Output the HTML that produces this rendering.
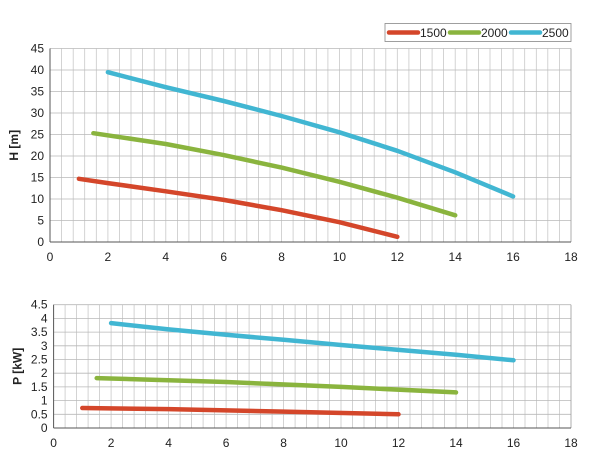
<!DOCTYPE html>
<html><head><meta charset="utf-8"><style>body{margin:0;background:#fff}svg{display:block}text{font-family:"Liberation Sans",Arial,sans-serif;fill:#222}</style></head>
<body>
<svg id="s" width="600" height="463" xmlns="http://www.w3.org/2000/svg"></svg>
<script>
const s=document.getElementById('s');let h='';
function chart(x0,x1,yT,yB,ymax,ystep,ylabels,series,label){
 const sx=v=>x0+(x1-x0)*v/18, sy=v=>yB-(yB-yT)*v/ymax;
 for(let v=0.4;v<18;v+=0.4){const x=sx(v).toFixed(1);h+=`<line x1="${x}" y1="${yT}" x2="${x}" y2="${yB}" stroke="#c8c8c8" stroke-width="0.8"/>`;}
 for(let v=ystep;v<=ymax+1e-9;v+=ystep){const y=sy(v).toFixed(1);h+=`<line x1="${x0}" y1="${y}" x2="${x1}" y2="${y}" stroke="#b8b8b8" stroke-width="0.8"/>`;}
 h+=`<line x1="${x1}" y1="${yT}" x2="${x1}" y2="${yB}" stroke="#999" stroke-width="0.8"/>`;
 h+=`<line x1="${x0}" y1="${yT}" x2="${x0}" y2="${yB}" stroke="#555"/><line x1="${x0}" y1="${yB}" x2="${x1}" y2="${yB}" stroke="#555"/>`;
 ylabels.forEach(([v,t])=>{h+=`<text x="${x0-6}" y="${sy(v)+4}" font-size="12" text-anchor="end">${t}</text>`;});
 for(let v=0;v<=18;v+=2)h+=`<text x="${sx(v)}" y="${yB+19}" font-size="12" text-anchor="middle">${v}</text>`;
 const cols=['#d4462a','#8ab43e','#41b6d2'];
 series.forEach((pts,i)=>{h+=`<polyline fill="none" stroke="${cols[i]}" stroke-width="4.5" stroke-linecap="round" stroke-linejoin="round" points="${pts.map(p=>sx(p[0]).toFixed(1)+','+sy(p[1]).toFixed(1)).join(' ')}"/>`;});
 const lx=x0-32, cy=(yT+yB)/2;h+=`<text x="${lx}" y="${cy}" font-size="12" font-weight="bold" text-anchor="middle" transform="rotate(-90 ${lx} ${cy})">${label}</text>`;
}
let yl=[];for(let v=0;v<=45;v+=5)yl.push([v,v]);
chart(50,571,48.5,242,45,5,yl,[
 [[1,14.7],[2,13.7],[4,11.8],[6,9.8],[8,7.4],[10,4.6],[12,1.2]],
 [[1.5,25.3],[4,22.8],[6,20.2],[8,17.3],[10,14],[12,10.3],[14,6.2]],
 [[2,39.5],[4,36],[6,32.8],[8,29.3],[10,25.5],[12,21.2],[14,16.2],[16,10.6]]],'H [m]');
yl=[];for(let v=0;v<=4.5;v+=0.5)yl.push([v,String(Math.round(v*10)/10)]);
chart(53.6,571,304.7,428,4.5,0.5,yl,[
 [[1,0.73],[4,0.69],[8,0.6],[12,0.5]],
 [[1.5,1.82],[6,1.68],[10,1.5],[14,1.3]],
 [[2,3.83],[4,3.6],[6,3.4],[8,3.22],[10,3.03],[12,2.85],[14,2.67],[16,2.47]]],'P [kW]');
h+=`<rect x="385" y="23.5" width="186" height="18" fill="#fff" stroke="#888" stroke-width="0.8"/>`;
[['#d4462a','1500',389],['#8ab43e','2000',450],['#41b6d2','2500',511]].forEach(([c,t,x])=>{h+=`<line x1="${x}" y1="32.5" x2="${x+29}" y2="32.5" stroke="${c}" stroke-width="4.5" stroke-linecap="round"/><text x="${x+31}" y="37" font-size="12">${t}</text>`;});
s.innerHTML=h;
</script>
</body></html>
